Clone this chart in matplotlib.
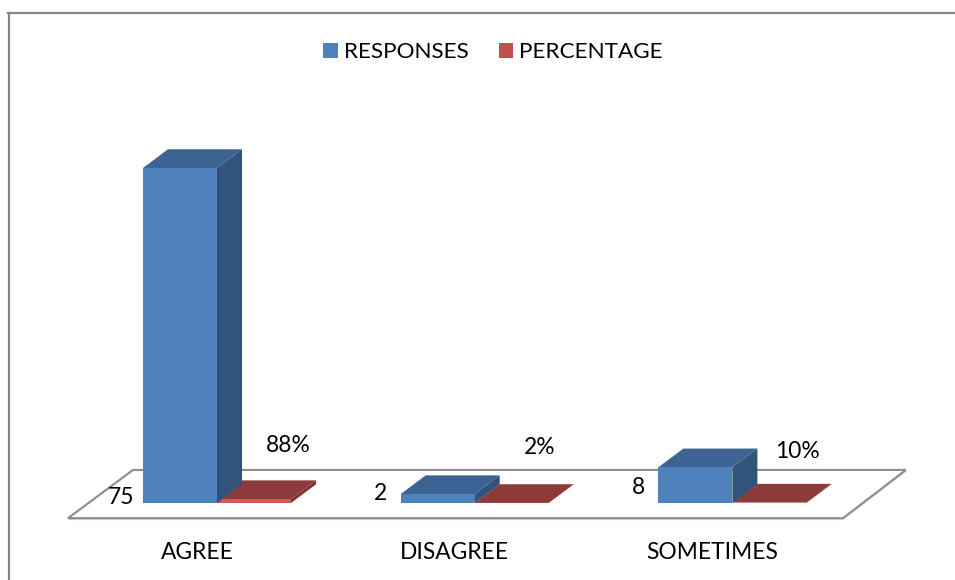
import matplotlib
matplotlib.use("Agg")
import matplotlib.pyplot as plt
import numpy as np
from matplotlib.patches import Patch, Polygon

plt.rcParams["font.family"] = ["Lato", "DejaVu Sans"]

# Survey results
categories = ["AGREE", "DISAGREE", "SOMETIMES"]
responses = [75, 2, 8]
percentages = [0.88, 0.02, 0.10]
percentage_labels = ["88%", "2%", "10%"]

# Canvas layout, in pixels at 100 dpi
W, H = 955, 580
AX_LEFT, AX_TOP = 8.5, 12.5
X0_PX, GROUP_PX = 217.0, 257.7   # first group centre, spacing between groups
Y0_PX, UNIT_PX = 503.0, 4.467    # baseline position, pixels per unit of value
BAR_PX = 74.0
DEPTH_X_PX, DEPTH_Y_PX = 25.0, 18.7

FONT = 16.4
LEGEND_FONT = 16.2
FRAME = "#868686"
BLUE = {"front": "#4F81BD", "top": "#3C6391", "side": "#325379"}
RED = {"front": "#CF5A56", "top": "#8E3A3A", "side": "#82332F"}
LEGEND_BLUE, LEGEND_RED = "#4F81BD", "#C0504D"

fig = plt.figure(figsize=(W / 100, H / 100), dpi=100, facecolor="white")
ax = fig.add_axes([AX_LEFT / W, 0, 1 - AX_LEFT / W, 1 - AX_TOP / H])
ax.set_xlim((AX_LEFT - X0_PX) / GROUP_PX, (W - X0_PX) / GROUP_PX)
ax.set_ylim((Y0_PX - H) / UNIT_PX, (Y0_PX - AX_TOP) / UNIT_PX)

for name in ("right", "bottom"):
    ax.spines[name].set_visible(False)
for name in ("left", "top"):
    ax.spines[name].set_color(FRAME)
    ax.spines[name].set_linewidth(1.6)

bar_w = BAR_PX / GROUP_PX
dx = DEPTH_X_PX / GROUP_PX
dy = DEPTH_Y_PX / UNIT_PX
x = np.arange(len(categories))

# Floor of the pseudo-3D plot
floor_x = [-0.578, 2.429, 2.673, -0.326]
floor_y = [-3.40, -3.40, 7.40, 7.40]
ax.add_patch(Polygon(np.column_stack([floor_x, np.array(floor_y) - 0.22]),
                     closed=True, fill=False, ec="#DDDDDD", lw=1.4, zorder=1))
ax.add_patch(Polygon(np.column_stack([floor_x, floor_y]), closed=True,
                     fc="white", ec="#8C8C8C", lw=1.5, joinstyle="miter", zorder=1.1))


def extrude(bars, colors, z):
    """Add the top and side faces to each front rectangle."""
    for bar in bars:
        x0, x1 = bar.get_x(), bar.get_x() + bar.get_width()
        h = bar.get_height()
        ax.add_patch(Polygon([(x0, h), (x1, h), (x1 + dx, h + dy), (x0 + dx, h + dy)],
                             closed=True, fc=colors["top"], ec="none", zorder=z))
        ax.add_patch(Polygon([(x1, 0), (x1 + dx, dy), (x1 + dx, h + dy), (x1, h)],
                             closed=True, fc=colors["side"], ec="none", zorder=z))


# Red bars sit behind the blue ones so the blue side face overlaps them
red_bars = ax.bar(x + bar_w / 2, percentages, bar_w, color=RED["front"], zorder=3)
extrude(red_bars, RED, 2.9)
blue_bars = ax.bar(x - bar_w / 2, responses, bar_w, color=BLUE["front"], zorder=5)
extrude(blue_bars, BLUE, 4.9)

# Value labels, offset in pixels from each bar's lower-left corner
resp_offsets = [(-22, 5), (-20, 9), (-20, 15)]
pct_offsets = [(71, 57), (65, 56), (65, 51)]
for bar, val, off in zip(blue_bars, responses, resp_offsets):
    ax.annotate(str(val), (bar.get_x(), 0), xytext=off, textcoords="offset pixels",
                ha="center", va="center", fontsize=FONT, color="black", zorder=6)
for bar, lab, off in zip(red_bars, percentage_labels, pct_offsets):
    ax.annotate(lab, (bar.get_x(), 0), xytext=off, textcoords="offset pixels",
                ha="center", va="center", fontsize=FONT, color="black", zorder=6)

# Category labels
ax.set_yticks([])
ax.set_xticks(x - 20 / GROUP_PX)
ax.set_xticklabels(categories, fontsize=FONT, color="black")
ax.tick_params(axis="x", length=0, pad=-27.7)

handles = [Patch(fc=LEGEND_BLUE, ec="none", label="RESPONSES"),
           Patch(fc=LEGEND_RED, ec="none", label="PERCENTAGE")]
fig.legend(handles=handles, loc="center", bbox_to_anchor=(493 / W, 1 - 52 / H),
           ncol=2, frameon=False, fontsize=LEGEND_FONT, handlelength=0.66, handleheight=0.66,
           handletextpad=0.26, columnspacing=1.33, borderpad=0, labelcolor="black")

fig.savefig("out.png", dpi=100, facecolor="white")
